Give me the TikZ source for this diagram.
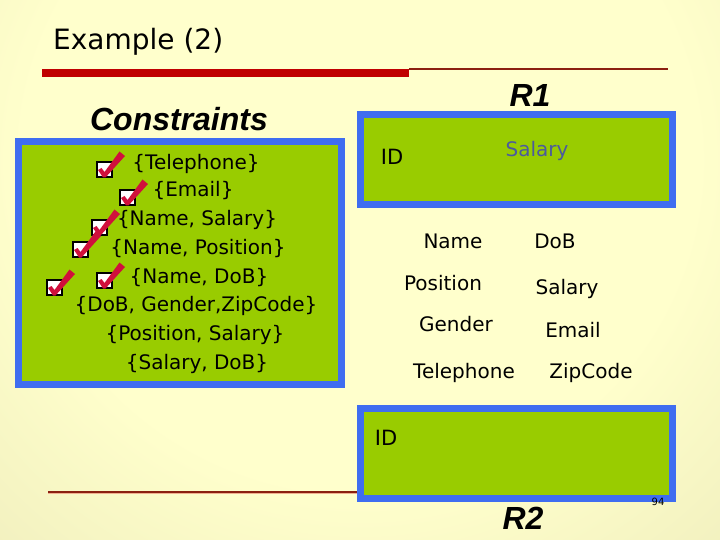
\documentclass[tikz,border=0pt]{standalone}
\usepackage{fontspec}
\setmainfont{DejaVu Sans}
\newfontfamily\titlefont{Liberation Sans}
\usepackage{xcolor}
\definecolor{backIn}  {HTML}{FFFFCC}
\definecolor{backOut} {HTML}{D8D4A6}
\definecolor{boxFill} {HTML}{99CC00}
\definecolor{boxEdge} {HTML}{3F6DF0}
\definecolor{barRed}  {HTML}{C00000}
\definecolor{lineRed} {HTML}{8B2010}
\definecolor{lineShade}{HTML}{F0B090}
\definecolor{tickRed} {HTML}{D0103C}
\definecolor{attrBlue}{HTML}{4B5A9E}
\usetikzlibrary{positioning}
\pgfdeclareradialshading{slideback}{\pgfpoint{0bp}{0bp}}{color(0bp)=(backIn); color(20bp)=(backIn); color(40bp)=(backOut!55!backIn); color(55bp)=(backOut); color(80bp)=(backOut)}

\tikzset{
  relbox/.style={fill=boxFill, draw=boxEdge, line width=7pt},
  attr/.style={font=\fontsize{20}{24}\selectfont, inner sep=0pt},
  keyset/.style={font=\fontsize{20}{24}\selectfont, inner sep=0pt},
  heading/.style={font=\titlefont\bfseries\itshape\fontsize{32}{36}\selectfont, inner sep=0pt}
}

% white box with a red tick, top-left corner at #1
\newcommand{\tickbox}[1]{%
  \begin{scope}[shift={#1}]
    \filldraw[fill=white, draw=black, line width=1.4pt] (0,0) rectangle (15,15);
    \fill[tickRed] (1,8) -- (4.5,6) -- (7.5,10) -- (22.5,-10.5) -- (28,-6) -- (8.5,15.5) -- (6,15.5) -- cycle;
  \end{scope}}

\begin{document}
\begin{tikzpicture}[x=1pt, y=-1pt]
    \useasboundingbox (0,0) rectangle (720,540);

    % --- slide background ---
    \begin{scope}
        \clip (0,0) rectangle (720,540);
        \shade[shading=slideback] (-60,-250) rectangle (780,570);
    \end{scope}

    % --- title and rules ---
    \node[anchor=west, inner sep=0pt, font=\fontsize{28}{32}\selectfont] (title) at (53,42) {Example (2)};
    \draw[barRed, line width=8pt] (42,73) -- (409,73);
    \draw[lineRed, line width=1.2pt] (409,69) -- (668,69);
    \draw[lineShade, line width=1.5pt] (48,493.5) -- (357,493.5);
    \draw[lineRed, line width=1.5pt] (48,492) -- (357,492);

    % --- Constraints (left box) ---
    \node[heading] (cons) at (179,119) {Constraints};
    \draw[relbox] (18.5,141.5) rectangle (341.5,384.5);
    \node[keyset] (k1) at (196,164) {\{Telephone\}};
    \node[keyset] (k2) at (193,191) {\{Email\}};
    \node[keyset] (k3) at (197,220) {\{Name, Salary\}};
    \node[keyset] (k4) at (198,249) {\{Name, Position\}};
    \node[keyset] (k5) at (199,278) {\{Name, DoB\}};
    \node[keyset] (k6) at (196,306) {\{DoB, Gender,ZipCode\}};
    \node[keyset] (k7) at (195,335) {\{Position, Salary\}};
    \node[keyset] (k8) at (197,364) {\{Salary, DoB\}};
    \tickbox{(97,162)}
    \tickbox{(120,190)}
    \tickbox{(92,220)}
    \tickbox{(73,242)}
    \tickbox{(97,273)}
    \tickbox{(47,280)}

    % --- R1 ---
    \node[heading] (r1) at (530,95) {R1};
    \draw[relbox] (360.5,114.5) rectangle (672.5,204.5);
    \node[attr, font=\fontsize{21}{24}\selectfont] (r1id) at (392,157) {ID};
    \node[attr, text=attrBlue] (r1sal) at (537,151) {Salary};

    % --- attributes left over ---
    \node[attr] (name)  at (453,241) {Name};
    \node[attr] (dob)   at (555,241) {DoB};
    \node[attr] (pos)   at (443,283) {Position};
    \node[attr] (sal)   at (567,289) {Salary};
    \node[attr] (gen)   at (456,324) {Gender};
    \node[attr] (mail)  at (573,330) {Email};
    \node[attr] (tel)   at (464,373) {Telephone};
    \node[attr] (zip)   at (591,373) {ZipCode};

    % --- R2 ---
    \draw[relbox] (360.5,408.5) rectangle (672.5,498.5);
    \node[attr, font=\fontsize{21}{24}\selectfont] (r2id) at (386,438) {ID};
    \node[heading] (r2) at (523,518) {R2};
    \node[inner sep=0pt, font=\fontsize{10}{12}\selectfont] (page) at (658,502) {94};
\end{tikzpicture}
\end{document}
